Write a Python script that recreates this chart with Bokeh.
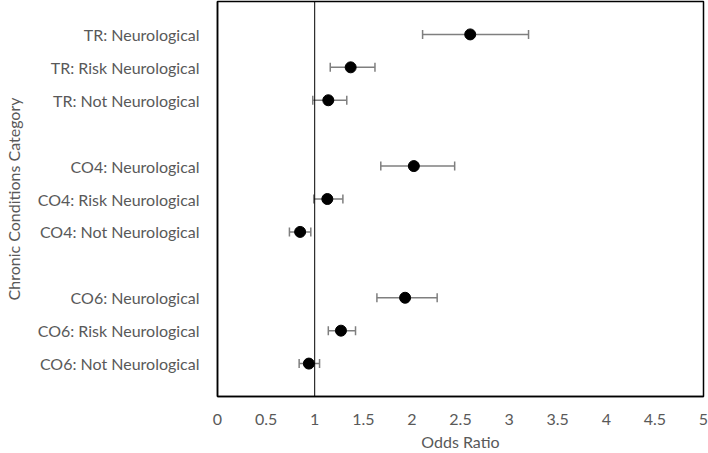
from bokeh.plotting import figure
from bokeh.models import ColumnDataSource, Whisker, TeeHead, Span, FixedTicker
from bokeh.embed import file_html
from bokeh.resources import INLINE

categories = ["TR: Neurological", "TR: Risk Neurological", "TR: Not Neurological",
              "CO4: Neurological", "CO4: Risk Neurological", "CO4: Not Neurological",
              "CO6: Neurological", "CO6: Risk Neurological", "CO6: Not Neurological"]
positions = [11, 10, 9, 7, 6, 5, 3, 2, 1]
odds = [2.60, 1.37, 1.14, 2.02, 1.13, 0.85, 1.93, 1.27, 0.94]
lower = [2.11, 1.16, 0.98, 1.68, 0.99, 0.74, 1.64, 1.14, 0.84]
upper = [3.20, 1.62, 1.33, 2.44, 1.29, 0.96, 2.26, 1.42, 1.05]
x_ticks = [0, 0.5, 1, 1.5, 2, 2.5, 3, 3.5, 4, 4.5, 5]

FONT = "Lato"
GREY = "#595959"

src = ColumnDataSource(dict(y=positions, x=odds, lo=lower, hi=upper))

p = figure(width=708, height=453, x_range=(0, 5), y_range=(0, 12),
           output_backend="svg", toolbar_location=None,
           min_border_left=216, min_border_right=5, min_border_top=1, min_border_bottom=57)
p.xgrid.visible = False
p.ygrid.visible = False
p.outline_line_color = "black"
p.outline_line_width = 1.5
p.background_fill_color = "white"
p.border_fill_color = "white"

ref = Span(location=1, dimension="height", line_color="black", line_width=1)
p.add_layout(ref)

wh = Whisker(source=src, base="y", lower="lo", upper="hi", dimension="width",
             line_color="#7f7f7f", line_width=1.5,
             upper_head=TeeHead(size=9, line_color="#7f7f7f", line_width=1.5),
             lower_head=TeeHead(size=9, line_color="#7f7f7f", line_width=1.5))
p.add_layout(wh)

p.scatter("x", "y", source=src, size=11, color="black")

xa = p.xaxis[0]
xa.ticker = FixedTicker(ticks=x_ticks)
xa.major_label_overrides = {t: ("%g" % t) for t in x_ticks}
xa.axis_line_color = "black"
xa.axis_line_width = 1.5
xa.major_tick_line_color = None
xa.minor_tick_line_color = None
xa.major_label_standoff = 11
xa.major_label_text_font = FONT
xa.major_label_text_font_size = "16px"
xa.major_label_text_color = GREY
xa.axis_label = "Odds Ratio"
xa.axis_label_text_font = FONT
xa.axis_label_text_font_size = "16px"
xa.axis_label_text_font_style = "normal"
xa.axis_label_text_color = GREY
xa.axis_label_standoff = 4

ya = p.yaxis[0]
ya.ticker = FixedTicker(ticks=positions)
ya.major_label_overrides = {pos: c for pos, c in zip(positions, categories)}
ya.axis_line_color = "black"
ya.axis_line_width = 1.5
ya.major_tick_line_color = None
ya.minor_tick_line_color = None
ya.major_label_standoff = 12
ya.major_label_text_font = FONT
ya.major_label_text_font_size = "16px"
ya.major_label_text_color = GREY
ya.axis_label = "Chronic Conditions Category"
ya.axis_label_text_font = FONT
ya.axis_label_text_font_size = "16px"
ya.axis_label_text_font_style = "normal"
ya.axis_label_text_color = GREY
ya.axis_label_standoff = 12

open("out.html", "w").write(file_html(p, INLINE))
